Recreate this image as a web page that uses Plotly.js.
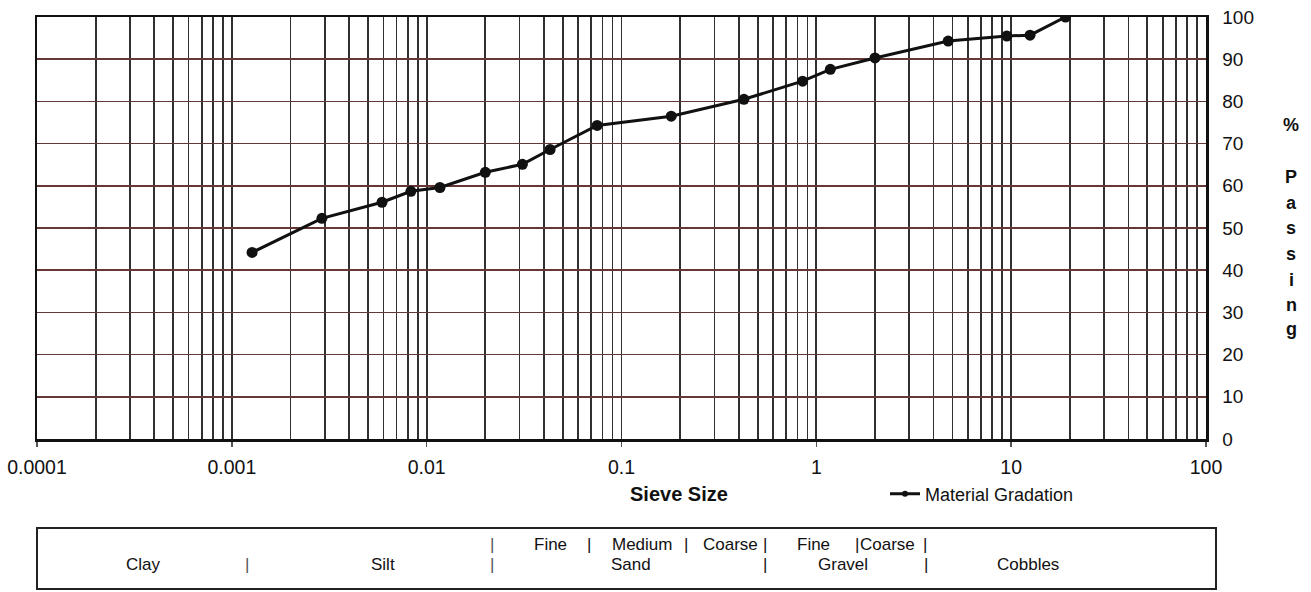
<!DOCTYPE html>
<html>
<head>
<meta charset="utf-8">
<script src="https://cdn.plot.ly/plotly-3.0.1.min.js"></script>
<style>
  html, body { margin: 0; padding: 0; background: #fff; }
  #chart { width: 1311px; height: 592px; }
</style>
</head>
<body>
<div id="chart"></div>
<script>
// ---- Data ----
const sieveSize = [0.00127, 0.0029, 0.0059, 0.0083, 0.0117, 0.020, 0.031, 0.043, 0.075,
                   0.18, 0.425, 0.85, 1.18, 2.0, 4.75, 9.5, 12.5, 19];
const percentPassing = [44.2, 52.3, 56.1, 58.7, 59.6, 63.2, 65.1, 68.6, 74.3,
                        76.5, 80.5, 84.8, 87.6, 90.3, 94.3, 95.5, 95.7, 100];
const seriesName = "Material Gradation";
const xTickVals = [0.0001, 0.001, 0.01, 0.1, 1, 10, 100];
const xTickText = ["0.0001", "0.001", "0.01", "0.1", "1", "10", "100"];
const yTickVals = [0, 10, 20, 30, 40, 50, 60, 70, 80, 90, 100];
const xTitle = "Sieve Size";
const yTitleChars = ["%", "P", "a", "s", "s", "i", "n", "g"];
const soilLabels = ["Clay", "|", "Silt", "|", "|", "Fine", "|", "Medium", "|", "Coarse", "|", "Sand", "|",
                    "Fine", "|", "Coarse", "|", "Gravel", "|", "Cobbles"];

// minor grid positions (2..9 within each decade)
const minorVals = [];
for (let d = -4; d < 2; d++) {
  for (let m = 2; m <= 9; m++) minorVals.push(m * Math.pow(10, d));
}

// ---- Layout helpers (pixel -> paper) ----
const L = 37, R = 1206, T = 17, B = 439;
const px = v => (v - L) / (R - L);
const py = v => (B - v) / (B - T);

const FONT = "Liberation Sans, Arial, Helvetica, sans-serif";

const annotations = [];
// x title
annotations.push({ xref: 'paper', yref: 'paper', x: px(679), y: py(494), text: '<b>' + xTitle + '</b>',
  showarrow: false, xanchor: 'center', yanchor: 'middle', font: { family: FONT, size: 20, color: '#111' } });
// y title (stacked letters)
const yTitleY = [125, 177, 203, 228, 254, 280, 305, 329];
yTitleChars.forEach((c, i) => annotations.push({
  xref: 'paper', yref: 'paper', x: px(1291), y: py(yTitleY[i]), text: '<b>' + c + '</b>',
  showarrow: false, xanchor: 'center', yanchor: 'middle', font: { family: FONT, size: 18, color: '#111' } }));

// soil classification box labels
const L1 = 544, L2 = 565;
const soilPos = [[143, L2], [247, L2], [383, L2], [492, L1], [492, L2], [550, L1], [589, L1], [642, L1],
                 [686, L1], [730, L1], [765, L1], [631, L2], [765, L2], [813, L1], [857, L1], [888, L1],
                 [925, L1], [843, L2], [926, L2], [1028, L2]];
soilLabels.forEach((t, i) => annotations.push({
  xref: 'paper', yref: 'paper', x: px(soilPos[i][0]), y: py(soilPos[i][1]), text: t,
  showarrow: false, xanchor: 'center', yanchor: 'middle',
  font: { family: FONT, size: 17, color: (t === '|' && i <= 4) ? '#555' : '#111' } }));

const shapes = [{
  type: 'rect', xref: 'paper', yref: 'paper', x0: px(37), x1: px(1216), y0: py(589), y1: py(528),
  line: { color: '#222', width: 2 }, fillcolor: 'rgba(0,0,0,0)'
}];

const traces = [
  { x: sieveSize, y: percentPassing, type: 'scatter', mode: 'lines+markers', name: seriesName,
    showlegend: false, line: { color: '#111', width: 3 }, marker: { color: '#111', size: 11 } },
  { x: [null], y: [null], type: 'scatter', mode: 'lines+markers', name: seriesName,
    showlegend: true, line: { color: '#111', width: 3 }, marker: { color: '#111', size: 6 } }
];

const layout = {
  width: 1311, height: 592,
  margin: { l: L, r: 1311 - R, t: T, b: 592 - B, pad: 0 },
  paper_bgcolor: '#fff', plot_bgcolor: '#fff',
  font: { family: FONT, size: 18, color: '#111' },
  showlegend: true,
  legend: { orientation: 'h', x: px(885), y: py(494), xanchor: 'left', yanchor: 'middle',
            font: { family: FONT, size: 18, color: '#111' }, bgcolor: 'rgba(0,0,0,0)' },
  xaxis: {
    type: 'log', range: [-4, 2], tickmode: 'array', tickvals: xTickVals, ticktext: xTickText,
    ticks: 'outside', ticklen: 5, tickwidth: 1.5, tickcolor: '#555', ticklabelstandoff: 4,
    showgrid: true, gridcolor: '#303030', gridwidth: 1.7,
    minor: { tickmode: 'array', tickvals: minorVals, showgrid: true, gridcolor: '#303030', gridwidth: 1.7, ticks: '' },
    showline: true, mirror: true, linecolor: '#111', linewidth: 2.5, zeroline: false,
    tickfont: { family: FONT, size: 19.5, color: '#111' }
  },
  yaxis: {
    range: [0, 100], tickmode: 'array', tickvals: yTickVals, side: 'right',
    ticks: '', ticklabelstandoff: 10,
    showgrid: true, gridcolor: '#653838', gridwidth: 1.7,
    showline: true, mirror: true, linecolor: '#111', linewidth: 2.5, zeroline: false,
    tickfont: { family: FONT, size: 19, color: '#111' }
  },
  annotations: annotations,
  shapes: shapes
};

Plotly.newPlot('chart', traces, layout, { displayModeBar: false, staticPlot: true });
</script>
</body>
</html>
